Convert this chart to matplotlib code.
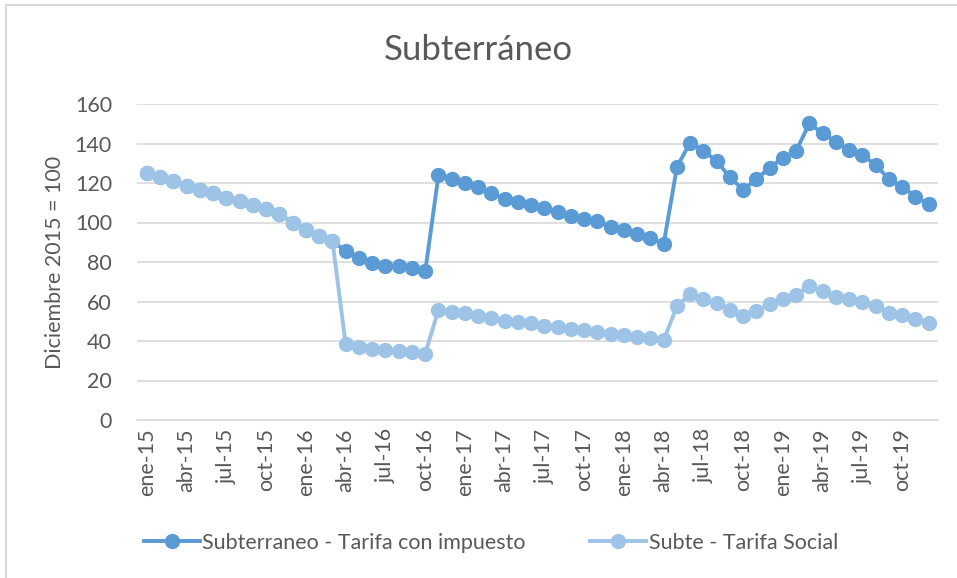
import numpy as np
import matplotlib.pyplot as plt
from matplotlib.patches import Rectangle

# meses ene-15 .. dic-19
meses = ['ene', 'feb', 'mar', 'abr', 'may', 'jun', 'jul', 'ago', 'sep', 'oct', 'nov', 'dic']
anios = ['15', '16', '17', '18', '19']
etiquetas = [f'{m}-{a}' for a in anios for m in meses]

# Subterraneo - Tarifa con impuesto
tarifa_impuesto = [125.1, 123.0, 120.8, 118.3, 116.3, 114.9, 112.6, 110.7, 108.7, 107.0,
                   104.5, 99.8, 96.0, 93.0, 90.5, 85.6, 82.0, 79.5, 78.1, 78.0,
                   77.0, 75.2, 123.8, 121.9, 119.8, 117.8, 115.1, 111.9, 110.5, 108.9,
                   107.2, 105.5, 103.5, 101.8, 100.9, 97.9, 96.2, 94.0, 92.0, 89.3,
                   128.2, 140.5, 136.2, 131.1, 122.9, 116.5, 122.0, 127.8, 132.8, 136.4,
                   150.2, 145.1, 140.9, 136.7, 134.2, 129.1, 121.9, 118.1, 113.1, 109.2]

# Subte - Tarifa Social
tarifa_social = [125.1, 123.0, 120.8, 118.3, 116.3, 114.9, 112.6, 110.7, 108.7, 107.0,
                 104.5, 99.8, 96.0, 93.0, 90.5, 38.3, 37.0, 35.8, 35.3, 34.9,
                 34.6, 33.6, 55.8, 54.9, 54.0, 52.8, 51.5, 50.3, 49.5, 48.9,
                 47.8, 46.9, 46.1, 45.6, 44.7, 43.5, 43.0, 42.2, 41.7, 40.5,
                 57.7, 63.7, 61.3, 59.1, 55.7, 52.7, 55.4, 58.7, 61.1, 63.3,
                 67.8, 65.5, 62.4, 61.1, 59.9, 57.9, 54.3, 53.2, 51.0, 49.3]

plt.rcParams['font.family'] = ['Lato', 'DejaVu Sans']
gris = '#595959'

fig = plt.figure(figsize=(9.57, 5.78), dpi=100)
ax = fig.add_axes([137 / 957, 1 - 420 / 578, 801 / 957, 316 / 578])

x = np.arange(len(etiquetas))
ax.plot(x, tarifa_impuesto, color='#5B9BD5', lw=2.8, marker='o', markersize=10,
        label='Subterraneo - Tarifa con impuesto', zorder=3)
ax.plot(x, tarifa_social, color='#9DC3E6', lw=2.8, marker='o', markersize=10,
        label='Subte - Tarifa Social', zorder=4)

ax.set_ylim(0, 160)
ax.set_yticks(np.arange(0, 161, 20))
ax.set_xlim(-0.75, 59.7)
ax.set_xticks(x[::3])
ax.set_xticklabels(etiquetas[::3], rotation=90)
ax.tick_params(length=0, labelsize=15.5, colors=gris)
ax.tick_params(axis='y', pad=18)
ax.tick_params(axis='x', pad=6)
ax.grid(axis='y', color='#D9D9D9', lw=1.2)
ax.set_axisbelow(True)
for s in ['top', 'right', 'left']:
    ax.spines[s].set_visible(False)
ax.spines['bottom'].set_color('#D9D9D9')
ax.spines['bottom'].set_linewidth(1.2)

ax.set_ylabel('Diciembre 2015 = 100', fontsize=15.5, color=gris, labelpad=7)
fig.text(0.5, 1 - 50 / 578, 'Subterráneo', ha='center', va='center',
         fontsize=25, color=gris)

fig.legend(loc='center', bbox_to_anchor=(491 / 957, 1 - 543 / 578), ncol=2,
           frameon=False, fontsize=15.5, labelcolor=gris, handlelength=2.6,
           columnspacing=3.0, handletextpad=0.1, markerscale=1.0)

# borde del area del grafico
fig.patches.append(Rectangle((6 / 957, -0.1), 1.2, 1 - 5 / 578 + 0.1,
                             transform=fig.transFigure, fill=False,
                             edgecolor='#D9D9D9', lw=1.5))

fig.savefig('out.png', dpi=100)
